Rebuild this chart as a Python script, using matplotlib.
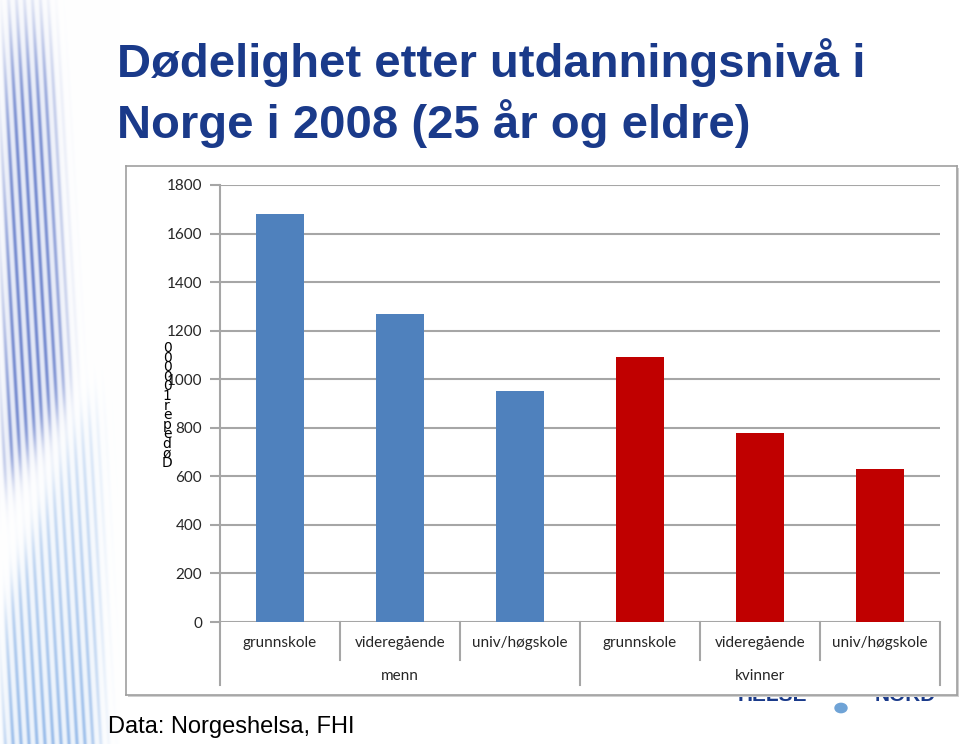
import numpy as np
import matplotlib
matplotlib.use("Agg")
import matplotlib.pyplot as plt
from matplotlib.patches import Rectangle, Circle

# ── Data ──────────────────────────────────────────────────────────────────────
groups = ["menn", "kvinner"]
levels = ["grunnskole", "videregående", "univ/høgskole"]
menn = [1680, 1270, 950]
kvinner = [1090, 778, 630]
y_ticks = [0, 200, 400, 600, 800, 1000, 1200, 1400, 1600, 1800]

title = "Dødelighet etter utdanningsnivå i\nNorge i 2008 (25 år og eldre)"
ylabel = "Døde per 100000"
source = "Data: Norgeshelsa, FHI"

BLUE = "#4F81BD"
RED = "#C00000"
GRID = "#a6a6a6"
TITLE_COL = "#1a3a8a"
TICK_FONT = "Lato"

W, H = 960, 744
fig = plt.figure(figsize=(W / 100, H / 100), dpi=100)


def fx(px):
    return px / W


def fy(py):
    return 1 - py / H


def sig(v):
    return 1 / (1 + np.exp(-v))


# ── Left decorative streak strip ─────────────────────────────────────────────
DW = 120
deco = fig.add_axes([0, 0, fx(DW), 1], zorder=-5)
yy, xx = np.mgrid[0:H, 0:DW].astype(float)
u = xx - 0.06 * yy
stripe = (0.5 + 0.5 * np.cos(2 * np.pi * u / 8.0)) ** 1.6
left_edge = sig((xx - 4) / 3)
# upper group: darker, ends earlier on the right side
upper = (sig((yy - 40) / 30) * sig((480 - 1.3 * (xx - 5) - yy) / 14)
         * sig((60 + 0.05 * (yy - 250) - xx) / 5) * left_edge)
# lower group: lighter, starts on the right and widens to the left going down
edge = 80 - 0.39 * (yy - 410)
lower = (sig((xx - edge) / 6) * sig((yy - 400) / 20)
         * sig((98 - xx) / 5) * left_edge
         * np.clip(0.35 + 0.65 * (yy - 400) / 344, 0, 1))
a_up = np.clip(0.85 * upper * (0.2 + 0.8 * stripe), 0, 1)[..., None]
a_lo = np.clip(0.75 * lower * (0.2 + 0.8 * stripe), 0, 1)[..., None]
c_up = np.array([95, 120, 200]) / 255
c_lo = np.array([125, 170, 228]) / 255
img = np.ones((H, DW, 3))
img = img * (1 - a_up) + c_up * a_up
img = img * (1 - a_lo) + c_lo * a_lo
deco.imshow(img, aspect="auto", interpolation="bilinear")
deco.axis("off")

# ── Title and source ─────────────────────────────────────────────────────────
fig.text(fx(117), fy(38), title, ha="left", va="top", color=TITLE_COL,
         fontsize=34, fontweight="bold", family="Liberation Sans",
         linespacing=1.3)
fig.text(fx(108), fy(733), source, ha="left", va="baseline", color="black",
         fontsize=17, family="Liberation Sans")

# ── Logo peeking out under the chart frame ──────────────────────────────────
fig.text(fx(772), fy(701), "HELSE", ha="center", va="baseline",
         color=TITLE_COL, fontsize=15, fontweight="bold",
         family="Liberation Sans", zorder=-2)
fig.text(fx(905), fy(701), "NORD", ha="center", va="baseline",
         color=TITLE_COL, fontsize=15, fontweight="bold",
         family="Liberation Sans", zorder=-2)
fig.patches.append(Circle((fx(841), fy(708)), 6 / W, color="#6fa3d6",
                          transform=fig.transFigure, zorder=-2))

# ── Chart frame with shadow ──────────────────────────────────────────────────
fig.patches.append(Rectangle((fx(128), fy(697)), fx(957 - 126), (695 - 166) / H,
                             transform=fig.transFigure, facecolor="#cfcfcf",
                             edgecolor="none", zorder=-1))
frame = fig.add_axes([fx(126), fy(695), fx(957 - 126), (695 - 166) / H], zorder=0)
frame.set_xticks([])
frame.set_yticks([])
for s in frame.spines.values():
    s.set_color("#a0a0a0")
    s.set_linewidth(1.2)

# ── Plot axes ────────────────────────────────────────────────────────────────
ax = fig.add_axes([fx(220), fy(622), fx(720), (622 - 185) / H], zorder=1)
ax.patch.set_alpha(0)

values = menn + kvinner
colors = [BLUE] * len(menn) + [RED] * len(kvinner)
x = np.arange(len(values))
ax.bar(x, values, width=0.4, color=colors, zorder=3)

ax.set_xlim(-0.5, len(values) - 0.5)
ax.set_ylim(0, 1800)
ax.set_yticks(y_ticks)
ax.set_yticklabels([str(t) for t in y_ticks], family=TICK_FONT, fontsize=11,
                   color="#262626")
ax.tick_params(axis="y", length=7, width=1.5, color=GRID, pad=6)
ax.set_xticks([])
for t in y_ticks:
    ax.axhline(t, color=GRID, lw=1.5, zorder=1)
for s in ["top", "right", "bottom"]:
    ax.spines[s].set_visible(False)
ax.spines["left"].set_color(GRID)
ax.spines["left"].set_linewidth(1.5)

# multi-level category axis
tr = ax.get_xaxis_transform()
lvl1_y = -0.048
lvl2_y = -0.124
for i, v in enumerate(values):
    ax.text(x[i], lvl1_y, levels[i % len(levels)], transform=tr, ha="center",
            va="center", family=TICK_FONT, fontsize=11, color="#262626")
for g, name in enumerate(groups):
    centre_x = g * len(levels) + (len(levels) - 1) / 2
    ax.text(centre_x, lvl2_y, name, transform=tr, ha="center", va="center",
            family=TICK_FONT, fontsize=11, color="#262626")
for b in np.arange(-0.5, len(values), 1.0):
    if (b + 0.5) % len(levels) == 0:
        ax.plot([b, b], [0, -0.145], transform=tr, color=GRID, lw=1.5,
                clip_on=False)
    else:
        ax.plot([b, b], [0, -0.087], transform=tr, color=GRID, lw=1.5,
                clip_on=False)

# odd stacked y-axis label, characters drawn upright one below another
stack = "\n".join(list(ylabel.replace(" ", ""))[::-1])
fig.text(fx(167), fy(341), stack, ha="center", va="top", fontsize=10,
         family="DejaVu Sans", linespacing=0.6)

fig.savefig("out.png", dpi=100)
